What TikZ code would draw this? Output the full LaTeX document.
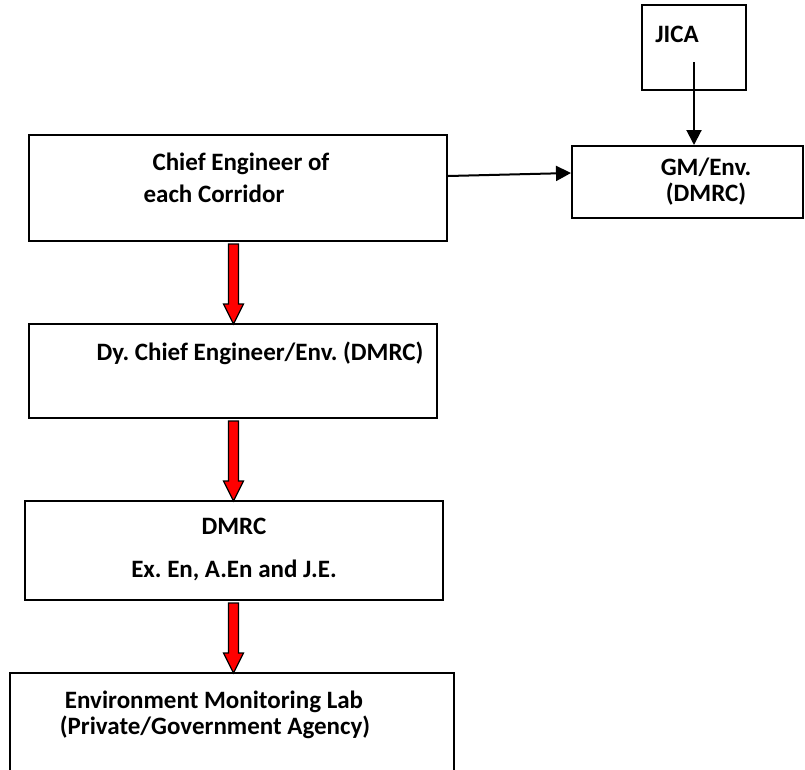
\documentclass[tikz,border=0pt]{standalone}
\usepackage{fontspec}
\setmainfont{Carlito}
\frenchspacing
\usetikzlibrary{arrows.meta,calc}
\definecolor{ink}{HTML}{000000}
\definecolor{flow}{HTML}{FF0000}
\tikzset{
  box/.style={draw=ink,line width=2pt,inner sep=0pt},
  lbl/.style={anchor=base,inner sep=0pt,text=ink,font=\fontsize{25}{30}\selectfont\bfseries},
  link/.style={-{Triangle[length=15pt,width=15pt]},draw=ink,line width=2pt}}
% block arrow from the foot of #1 to the head of #2
\newcommand{\redarrow}[2]{%
  \draw[fill=flow,draw=ink,line width=1.2pt]
    let \p1=($(spine |- #1.south)+(0,2)$), \p2=($(spine |- #2.north)+(0,1)$) in
    (\x1-5pt,\y1) -- (\x1+5pt,\y1) -- (\x1+5pt,\y2+20pt) -- (\x1+10pt,\y2+20pt)
    -- (\x2,\y2) -- (\x1-10pt,\y2+20pt) -- (\x1-5pt,\y2+20pt) -- cycle;}

\begin{document}
\begin{tikzpicture}[x=1pt,y=-1pt]
  \useasboundingbox (0,0) rectangle (805,769);
  \coordinate (spine) at (233.5,0);

  % boxes
  \node[box,minimum width=104pt,minimum height=85pt] (jica) at (694,47.5) {};
  \node[box,minimum width=231pt,minimum height=72pt] (gm) at (687.5,182) {};
  \node[box,minimum width=418pt,minimum height=106pt] (chief) at (238,188) {};
  \node[box,minimum width=408pt,minimum height=94pt] (dy) at (233,371) {};
  \node[box,minimum width=418pt,minimum height=99pt] (dmrc) at (234,550.5) {};
  \node[box,minimum width=444pt,minimum height=130pt] (lab) at (232,738) {};

  % texts
  \node[lbl] (jicatx) at (677,42) {JICA};
  \node[lbl] (gmtx) at (706,175) {GM/Env.};
  \node[lbl] (gmorg) at (706,201) {(DMRC)};
  \node[lbl] (chieftx) at (241,170) {Chief Engineer of};
  \node[lbl] (chiefsub) at (214,202) {each Corridor};
  \node[lbl] (dytx) at (260,360) {Dy. Chief Engineer/Env. (DMRC)};
  \node[lbl] (dmrctx) at (234,534) {DMRC};
  \node[lbl] (dmrcsub) at (234,577) {Ex. En, A.En and J.E.};
  \node[lbl] (labtx) at (214,708) {Environment Monitoring Lab};
  \node[lbl] (labsub) at (215,734) {(Private/Government Agency)};

  % connectors
  \draw[link] ($(jica.center)+(0,14.5)$) -- (jica.center |- gm.north);
  \draw[link] ($(chief.east)+(0,-12)$) -- ($(gm.west)+(0,-9)$);
  \redarrow{chief}{dy}
  \redarrow{dy}{dmrc}
  \redarrow{dmrc}{lab}
\end{tikzpicture}
\end{document}
